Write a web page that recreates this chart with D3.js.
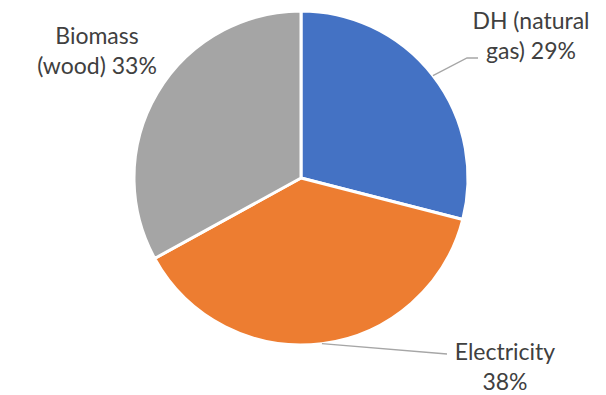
<!DOCTYPE html>
<html>
<head>
<meta charset="utf-8">
<script src="https://cdn.jsdelivr.net/npm/d3@7"></script>
<style>
  body { margin: 0; background: #fff; }
  text { font-family: Lato, "Open Sans", sans-serif; font-size: 23px; fill: #404040; }
</style>
</head>
<body>
<script>
// Heating source shares, pie starting at 12 o'clock going clockwise.
var categories = ['DH (natural gas)', 'Electricity', 'Biomass (wood)'],
    values = [29, 38, 33],
    colors = ['#4472C4', '#ED7D31', '#A5A5A5'],
    labelLines = [['DH (natural', 'gas) 29%'], ['Electricity', '38%'], ['Biomass', '(wood) 33%']];

var width = 606,
    height = 395,
    cx = 301,
    cy = 178,
    radius = 167;

var svg = d3.select('body').append('svg')
    .attr('width', width)
    .attr('height', height);

var pie = d3.pie().sort(null).value(function(d) { return d; });
var arcs = pie(values);

var arc = d3.arc().innerRadius(0).outerRadius(radius);

var g = svg.append('g').attr('transform', 'translate(' + cx + ',' + cy + ')');

g.selectAll('path.slice')
    .data(arcs)
    .enter()
    .append('path')
    .classed('slice', true)
    .attr('d', arc)
    .style('fill', function(d, i) { return colors[i]; })
    .style('stroke', '#fff')
    .style('stroke-width', 3)
    .style('stroke-linejoin', 'round');

// label placement (layout only), centres of text blocks and leader end points
var labelPos = [
    { x: 531, y: 29, leader: [[467, 58], [478, 58]] },
    { x: 505, y: 360, leader: [[447, 354]] },
    { x: 97, y: 44, leader: null }
];

function outerPoint(d) {
    var a = (d.startAngle + d.endAngle) / 2;
    return [cx + radius * Math.sin(a), cy - radius * Math.cos(a)];
}

arcs.forEach(function(d, i) {
    var p = labelPos[i];
    if (p.leader) {
        var pts = [outerPoint(d)].concat(p.leader);
        svg.append('path')
            .attr('d', d3.line()(pts))
            .style('fill', 'none')
            .style('stroke', '#a6a6a6')
            .style('stroke-width', 1.3);
    }
    var t = svg.append('text')
        .attr('text-anchor', 'middle')
        .attr('x', p.x)
        .attr('y', p.y);
    labelLines[i].forEach(function(line, k) {
        t.append('tspan')
            .attr('x', p.x)
            .attr('dy', k === 0 ? 0 : 29.5)
            .text(line);
    });
});
</script>
</body>
</html>
